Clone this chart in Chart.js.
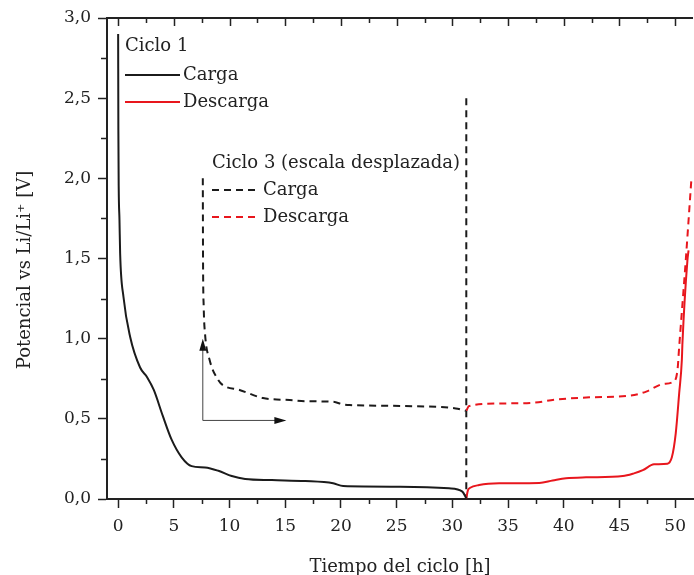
<!DOCTYPE html>
<html>
<head>
<meta charset="utf-8">
<script src="https://cdn.jsdelivr.net/npm/chart.js@4"></script>
<style>
  html, body { margin: 0; padding: 0; background: #fff; }
  #wrap { width: 694px; height: 575px; }
</style>
</head>
<body>
<div id="wrap"><canvas id="chart"></canvas></div>
<script>
// tick values
const xTicks = [0, 5, 10, 15, 20, 25, 30, 35, 40, 45, 50];
const xMinor = [2.5, 7.5, 12.5, 17.5, 22.5, 27.5, 32.5, 37.5, 42.5, 47.5];
const yTicks = [0, 0.5, 1.0, 1.5, 2.0, 2.5, 3.0];
const yMinor = [0.25, 0.75, 1.25, 1.75, 2.25, 2.75];

// Ciclo 1 - carga (h, V)
const c1CargaT = [0, 0.02, 0.05, 0.12, 0.18, 0.48, 1.08, 1.97, 2.6, 3.2, 4.0, 4.8, 5.7, 6.6, 7.8, 9.0, 10.2, 11.4, 13.8, 16.8, 19.3, 20.2, 25.3, 29.7, 30.9, 31.25];
const c1CargaV = [2.9, 2.3, 1.95, 1.74, 1.53, 1.26, 1.01, 0.82, 0.76, 0.68, 0.52, 0.37, 0.26, 0.205, 0.197, 0.176, 0.143, 0.125, 0.118, 0.112, 0.098, 0.081, 0.077, 0.067, 0.046, 0.005];

// Ciclo 1 - descarga
const c1DescT = [31.25, 31.4, 31.6, 32.4, 34.2, 37.8, 39.0, 40.2, 42.0, 45.3, 46.3, 47.1, 48.1, 49.3, 49.7, 50.05, 50.36, 50.6, 50.65, 51.1, 51.2];
const c1DescV = [0.005, 0.055, 0.07, 0.087, 0.098, 0.10, 0.115, 0.129, 0.135, 0.143, 0.16, 0.18, 0.216, 0.22, 0.26, 0.41, 0.66, 0.87, 0.97, 1.49, 1.55];

// Ciclo 3 - carga (escala desplazada)
const c3CargaT = [7.6, 7.62, 7.68, 7.8, 8.2, 9.0, 9.4, 10.9, 13.0, 15.4, 16.8, 19.3, 20.2, 20.8, 25.3, 30.3, 31.2];
const c3CargaV = [2.0, 1.5, 1.2, 1.03, 0.87, 0.74, 0.71, 0.68, 0.63, 0.617, 0.61, 0.606, 0.59, 0.586, 0.58, 0.565, 0.55];

// Ciclo 3 - descarga
const c3DescT = [31.25, 31.5, 34.2, 37.2, 39.3, 42.3, 45.9, 47.4, 48.9, 49.8, 50.2, 50.36, 50.95, 51.45];
const c3DescV = [0.55, 0.58, 0.596, 0.60, 0.62, 0.634, 0.644, 0.67, 0.717, 0.73, 0.80, 0.95, 1.49, 1.99];

// linea vertical de cambio carga/descarga
const cambioT = [31.25, 31.25];
const cambioV = [2.5, 0];

// flechas de la escala desplazada: origen, fin vertical, fin horizontal
const flechaOrigen = [7.6, 0.49];
const flechaArriba = [7.6, 1.0];
const flechaDerecha = [15.1, 0.49];

const negro = '#1b1b1b';
const rojo = '#e8161d';
const fuente = "'DejaVu Serif', 'Liberation Serif', serif";

const toPoints = (t, v) => t.map((x, i) => ({ x: x, y: v[i] }));

const lineSet = (label, t, v, color, dash, mode) => ({
    label: label,
    data: toPoints(t, v),
    borderColor: color,
    borderWidth: 2,
    borderDash: dash,
    pointRadius: 0,
    fill: false,
    cubicInterpolationMode: mode,
    tension: 0
})

const decorations = {
    id: 'decorations',
    afterDraw(chart) {
        const { ctx, chartArea: a, scales: { x, y } } = chart;
        ctx.save();
        ctx.strokeStyle = '#222';
        ctx.lineWidth = 2;
        ctx.beginPath();
        ctx.moveTo(a.left, a.top);
        ctx.lineTo(a.right, a.top);
        ctx.stroke();

        ctx.lineWidth = 1.5;
        ctx.beginPath();
        xTicks.forEach(v => {
            const px = Math.round(x.getPixelForValue(v)) + 0.5;
            ctx.moveTo(px, a.top); ctx.lineTo(px, a.top + 8);
        });
        xMinor.forEach(v => {
            const px = Math.round(x.getPixelForValue(v)) + 0.5;
            ctx.moveTo(px, a.top); ctx.lineTo(px, a.top + 5);
            ctx.moveTo(px, a.bottom); ctx.lineTo(px, a.bottom + 5);
        });
        yMinor.forEach(v => {
            const py = Math.round(y.getPixelForValue(v)) + 0.5;
            ctx.moveTo(a.left - 6, py); ctx.lineTo(a.left, py);
        });
        ctx.stroke();

        // flechas
        const ox = x.getPixelForValue(flechaOrigen[0]), oy = y.getPixelForValue(flechaOrigen[1]);
        const ux = x.getPixelForValue(flechaArriba[0]), uy = y.getPixelForValue(flechaArriba[1]);
        const rx = x.getPixelForValue(flechaDerecha[0]), ry = y.getPixelForValue(flechaDerecha[1]);
        ctx.strokeStyle = '#444';
        ctx.lineWidth = 1;
        ctx.beginPath();
        ctx.moveTo(ux, uy + 8); ctx.lineTo(ox, oy); ctx.lineTo(rx - 10, ry);
        ctx.stroke();
        ctx.fillStyle = '#111';
        ctx.beginPath();
        ctx.moveTo(ux, uy); ctx.lineTo(ux - 3.5, uy + 12); ctx.lineTo(ux + 3.5, uy + 12); ctx.closePath();
        ctx.moveTo(rx, ry); ctx.lineTo(rx - 12, ry - 3.5); ctx.lineTo(rx - 12, ry + 3.5); ctx.closePath();
        ctx.fill();

        // leyendas
        ctx.font = '18px ' + fuente;
        ctx.textBaseline = 'middle';
        ctx.textAlign = 'left';
        ctx.fillStyle = '#222';
        const muestra = (x1, x2, yy, color, dash, texto) => {
            ctx.strokeStyle = color;
            ctx.lineWidth = 2;
            ctx.setLineDash(dash);
            ctx.beginPath(); ctx.moveTo(x1, yy); ctx.lineTo(x2, yy); ctx.stroke();
            ctx.setLineDash([]);
            ctx.fillStyle = '#222';
            ctx.fillText(texto, x2 + 3, yy);
        };
        ctx.fillText('Ciclo 1', 125, 46);
        muestra(125, 180, 75, negro, [], 'Carga');
        muestra(125, 180, 102, rojo, [], 'Descarga');
        ctx.fillText('Ciclo 3 (escala desplazada)', 212, 163);
        muestra(212, 260, 190, negro, [7, 5], 'Carga');
        muestra(212, 260, 217, rojo, [7, 5], 'Descarga');
        ctx.restore();
    }
}

const ctx = document.getElementById('chart').getContext('2d');

new Chart(ctx, {
    type: 'line',
    data: {
        datasets: [
            lineSet('Ciclo 1 Carga', c1CargaT, c1CargaV, negro, [], 'monotone'),
            lineSet('Ciclo 1 Descarga', c1DescT, c1DescV, rojo, [], 'monotone'),
            lineSet('Ciclo 3 Carga', c3CargaT, c3CargaV, negro, [7, 5], 'monotone'),
            lineSet('Ciclo 3 Descarga', c3DescT, c3DescV, rojo, [7, 5], 'monotone'),
            lineSet('Cambio', cambioT, cambioV, negro, [7, 5], 'default')
        ]
    },
    options: {
        responsive: true,
        maintainAspectRatio: false,
        animation: false,
        layout: { padding: { top: 18, right: 0, left: 0, bottom: 0 } },
        plugins: {
            legend: { display: false },
            tooltip: { enabled: false }
        },
        scales: {
            x: {
                type: 'linear',
                min: -1,
                max: 51.6,
                afterBuildTicks: (scale) => { scale.ticks = xTicks.map(v => ({ value: v })) },
                afterFit: (scale) => { scale.height = 76 },
                grid: { drawOnChartArea: false, tickLength: 9, tickColor: '#222', tickWidth: 1.5 },
                border: { display: true, color: '#222', width: 2 },
                ticks: {
                    color: '#222',
                    padding: 8,
                    maxRotation: 0,
                    font: { family: fuente, size: 17 },
                    callback: (v) => v.toString()
                },
                title: {
                    display: true,
                    text: 'Tiempo del ciclo [h]',
                    color: '#222',
                    padding: { top: 0, bottom: -3 },
                    font: { family: fuente, size: 18 }
                }
            },
            y: {
                type: 'linear',
                min: 0,
                max: 3,
                afterBuildTicks: (scale) => { scale.ticks = yTicks.map(v => ({ value: v })) },
                afterFit: (scale) => { scale.width = 107 },
                grid: { drawOnChartArea: false, tickLength: 9, tickColor: '#222', tickWidth: 1.5 },
                border: { display: true, color: '#222', width: 2 },
                ticks: {
                    color: '#222',
                    padding: 7,
                    font: { family: fuente, size: 17 },
                    callback: (v) => v.toFixed(1).replace('.', ',')
                },
                title: {
                    display: true,
                    text: 'Potencial vs Li/Li⁺ [V]\u00a0\u00a0\u00a0\u00a0',
                    color: '#222',
                    padding: { top: 15, bottom: 0 },
                    font: { family: fuente, size: 18 }
                }
            }
        }
    },
    plugins: [decorations]
});
</script>
</body>
</html>
